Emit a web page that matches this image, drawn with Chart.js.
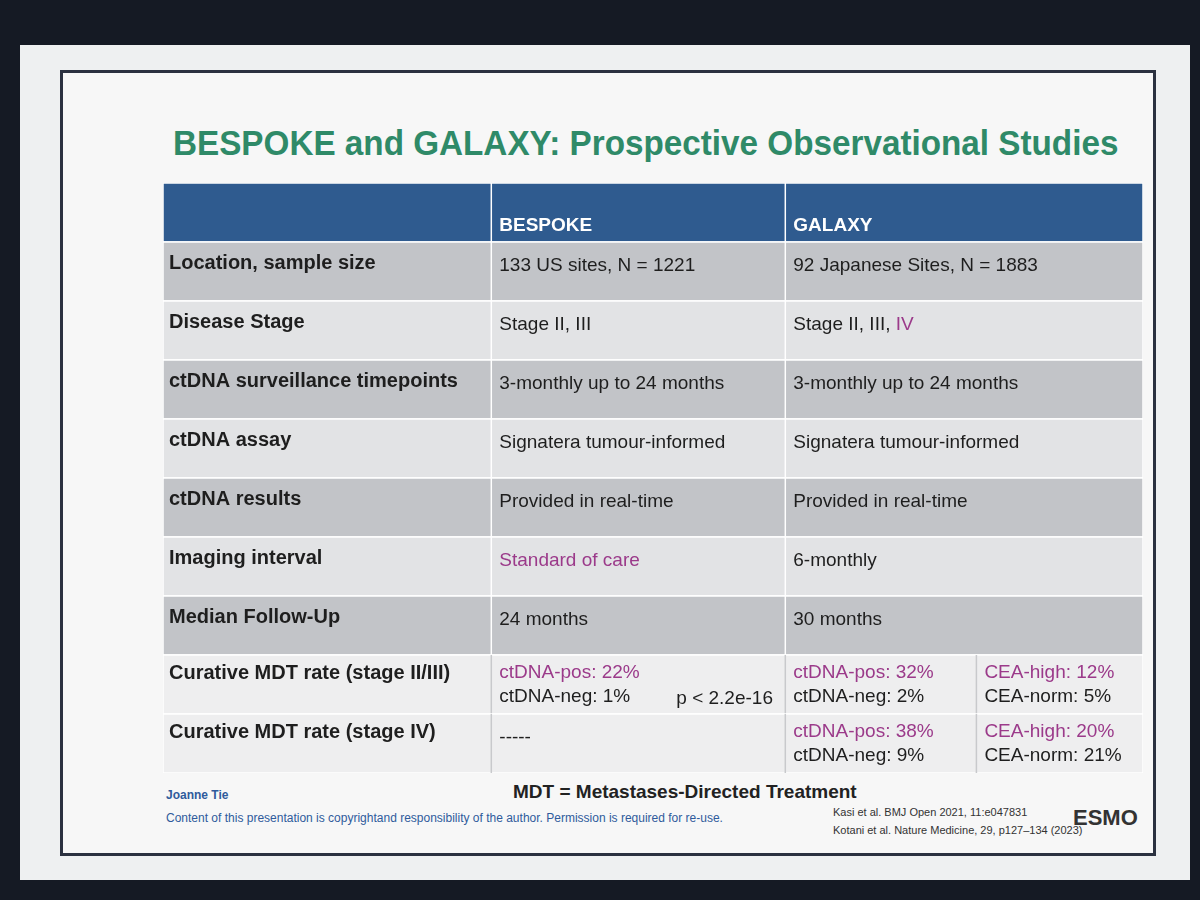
<!DOCTYPE html>
<html>
<head>
<meta charset="utf-8">
<script src="https://cdn.jsdelivr.net/npm/chart.js@4"></script>
<style>
  body { margin:0; width:1200px; height:900px; background:#151a24; font-family:"Liberation Sans", Arial, sans-serif; overflow:hidden; }
  #slide { position:absolute; left:20px; top:45px; width:1170px; height:835px; background:#eef0f1; }
  #frame { position:absolute; left:40px; top:25px; width:1090px; height:780px; border:3px solid #2b3140; background:#f7f7f7; }
  h1 { position:absolute; left:110px; top:50px; margin:0; font-size:35px; color:#2f8a68; font-weight:bold; white-space:nowrap; font-family:"Liberation Sans Narrow","Liberation Sans",Arial,sans-serif; transform:scaleX(0.95); transform-origin:left; }
  #wrap { position:absolute; left:100px; top:110px; }
  .ft { position:absolute; font-size:12px; white-space:nowrap; }
</style>
</head>
<body>
<div id="slide">
  <div id="frame">
    <h1>BESPOKE and GALAXY: Prospective Observational Studies</h1>
    <div id="wrap"><canvas id="table" width="980" height="590"></canvas></div>
    <div class="ft" style="left:103px;top:715px;color:#2f5b9c;font-weight:bold">Joanne Tie</div>
    <div class="ft" style="left:103px;top:738px;color:#2f5b9c">Content of this presentation is copyrightand responsibility of the author. Permission is required for re-use.</div>
    <div class="ft" style="left:450px;top:708px;font-size:19px;font-weight:bold;color:#222">MDT = Metastases-Directed Treatment</div>
    <div class="ft" style="left:770px;top:733px;font-size:11px;color:#333">Kasi et al. BMJ Open 2021, 11:e047831</div>
    <div class="ft" style="left:770px;top:751px;font-size:11px;color:#333">Kotani et al. Nature Medicine, 29, p127–134 (2023)</div>
    <div class="ft" style="left:1010px;top:732px;font-size:22px;font-weight:bold;color:#333">ESMO</div>
  </div>
</div>
<script>
// rows of the table
const rowLabels = ['', 'Location, sample size', 'Disease Stage', 'ctDNA surveillance timepoints',
  'ctDNA assay', 'ctDNA results', 'Imaging interval', 'Median Follow-Up',
  'Curative MDT rate (stage II/III)', 'Curative MDT rate (stage IV)'];
// cell texts: '*' prefix = purple text, '|' = second line, '@' = purple from here
const bespoke = ['BESPOKE', '133 US sites, N = 1221', 'Stage II, III', '3-monthly up to 24 months',
  'Signatera tumour-informed', 'Provided in real-time', '*Standard of care', '24 months',
  '*ctDNA-pos: 22%|ctDNA-neg: 1%', '-----'];
const galaxy = ['GALAXY', '92 Japanese Sites, N = 1883', 'Stage II, III, @IV', '3-monthly up to 24 months',
  'Signatera tumour-informed', 'Provided in real-time', '6-monthly', '30 months',
  '*ctDNA-pos: 32%|ctDNA-neg: 2%', '*ctDNA-pos: 38%|ctDNA-neg: 9%'];
const galaxyCea = ['', '', '', '', '', '', '', '', '*CEA-high: 12%|CEA-norm: 5%', '*CEA-high: 20%|CEA-norm: 21%'];
const pValue = 'p < 2.2e-16';

const purple = '#9b3a8a', ink = '#1e1e1e';

const tablePlugin = {
  id: 'tablePlugin',
  beforeDraw(chart) {
    const ctx = chart.ctx, x = chart.scales.x, y = chart.scales.y;
    const band = Math.abs(y.getPixelForValue(1) - y.getPixelForValue(0));
    const cx = [x.getPixelForValue(0), x.getPixelForValue(33.5), x.getPixelForValue(63.5),
      x.getPixelForValue(83), x.getPixelForValue(100)];
    ctx.save();
    rowLabels.forEach((lab, i) => {
      const top = y.getPixelForValue(i) - band / 2;
      let fill = i === 0 ? '#2f5b8f' : (i >= 8 ? '#eeeeef' : (i % 2 ? '#c2c4c8' : '#e2e3e5'));
      ctx.fillStyle = fill;
      ctx.fillRect(cx[0], top, cx[4] - cx[0], band);
      ctx.strokeStyle = '#ffffff'; ctx.lineWidth = 1.5;
      ctx.strokeRect(cx[0], top, cx[4] - cx[0], band);
      if (i >= 8) {
        ctx.strokeStyle = '#c8c9cc';
        [1, 2, 3].forEach(k => { ctx.beginPath(); ctx.moveTo(cx[k], top); ctx.lineTo(cx[k], top + band); ctx.stroke(); });
      } else {
        ctx.strokeStyle = '#ffffff';
        [1, 2].forEach(k => { ctx.beginPath(); ctx.moveTo(cx[k], top); ctx.lineTo(cx[k], top + band); ctx.stroke(); });
      }
      ctx.textBaseline = 'middle';
      ctx.font = 'bold 20px "Liberation Sans", Arial';
      ctx.fillStyle = ink;
      ctx.fillText(lab, cx[0] + 6, top + (i >= 8 ? 18 : band / 2 - 8));
      const hdr = i === 0;
      drawCell(ctx, bespoke[i], cx[1] + 8, top, band, hdr);
      drawCell(ctx, galaxy[i], cx[2] + 8, top, band, hdr);
      drawCell(ctx, galaxyCea[i], cx[3] + 8, top, band, hdr);
      if (i === 8) { ctx.font = '19px "Liberation Sans", Arial'; ctx.fillStyle = ink; ctx.fillText(pValue, cx[1] + 185, top + 44); }
    });
    ctx.restore();
  }
};

function drawCell(ctx, txt, x0, top, band, hdr) {
  if (!txt) return;
  if (hdr) {
    ctx.font = 'bold 19px "Liberation Sans", Arial'; ctx.fillStyle = '#ffffff';
    ctx.fillText(txt, x0, top + band - 16); return;
  }
  ctx.font = '19px "Liberation Sans", Arial';
  const lines = txt.split('|');
  lines.forEach((ln, j) => {
    let color = ink;
    if (ln[0] === '*') { ln = ln.slice(1); color = purple; }
    const yy = lines.length > 1 ? top + 18 + j * 24 : top + band / 2 - 6;
    const at = ln.indexOf('@');
    if (at >= 0) {
      const a = ln.slice(0, at), b = ln.slice(at + 1);
      ctx.fillStyle = color; ctx.fillText(a, x0, yy);
      ctx.fillStyle = purple; ctx.fillText(b, x0 + ctx.measureText(a).width, yy);
    } else {
      ctx.fillStyle = color; ctx.fillText(ln, x0, yy);
    }
  });
}

new Chart(document.getElementById('table'), {
  type: 'scatter',
  data: { datasets: [{ data: [] }] },
  options: {
    responsive: false,
    animation: false,
    layout: { padding: 0 },
    plugins: { legend: { display: false }, tooltip: { enabled: false } },
    scales: {
      x: { type: 'linear', min: 0, max: 100, display: false },
      y: { type: 'category', labels: rowLabels, offset: true, display: false }
    }
  },
  plugins: [tablePlugin]
});
</script>
</body>
</html>
